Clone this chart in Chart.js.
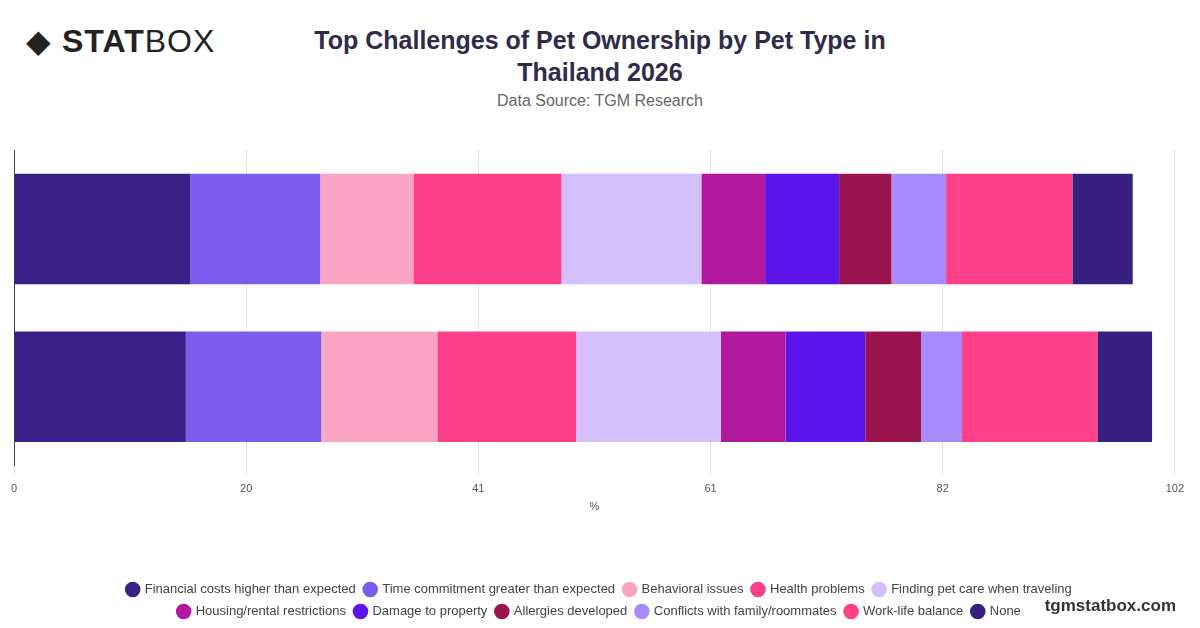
<!DOCTYPE html>
<html>
<head>
<meta charset="utf-8">
<script src="https://cdn.jsdelivr.net/npm/chart.js@4"></script>
<style>
  body { margin: 0; width: 1200px; height: 628px; background: #fff; font-family: "Liberation Sans", Arial, sans-serif; position: relative; overflow: hidden; }
  #logo { position: absolute; left: 26px; top: 22px; font-size: 32px; color: #222; letter-spacing: 1px; }
  #logo b { font-weight: 900; }
  #title { position: absolute; left: 300px; width: 600px; top: 24px; text-align: center; font-size: 25px; font-weight: 700; color: #2f2b48; line-height: 32px; }
  #source { position: absolute; left: 300px; width: 600px; top: 92px; text-align: center; font-size: 16px; color: #666; }
  #wm { position: absolute; right: 24px; bottom: 12px; font-size: 17px; font-weight: 700; color: #333; }
  #box { position: absolute; left: 0; top: 140px; width: 1193px; height: 488px; }
</style>
</head>
<body>
<div id="logo">&#9670; <b>STAT</b>BOX</div>
<div id="title">Top Challenges of Pet Ownership by Pet Type in<br>Thailand 2026</div>
<div id="source">Data Source: TGM Research</div>
<div id="box"><canvas id="myChart"></canvas></div>
<div id="wm">tgmstatbox.com</div>
<script>
const petTypes = ["Dog", "Cat"];
const challenges = ["Financial costs higher than expected", "Time commitment greater than expected", "Behavioral issues", "Health problems", "Finding pet care when traveling", "Housing/rental restrictions", "Damage to property", "Allergies developed", "Conflicts with family/roommates", "Work-life balance", "None"];
const dogValues = [15.5, 11.4, 8.2, 13.0, 12.3, 5.6, 6.5, 4.6, 4.8, 11.1, 5.3];
const catValues = [15.1, 11.9, 10.2, 12.2, 12.7, 5.7, 7.0, 4.9, 3.6, 11.9, 4.8];
const colors = ["#3a1f86", "#7b5ced", "#fba4c4", "#fd3f87", "#d4bffb", "#b1189e", "#5b15ea", "#9b1450", "#a78bfa", "#ff3f88", "#37207f"];
const tickValues = [0, 20.4, 40.8, 61.2, 81.6, 102];

const datasets = challenges.map((name, i) => ({
  label: name,
  data: [dogValues[i], catValues[i]],
  backgroundColor: colors[i],
  borderWidth: 0,
  barPercentage: 0.7,
  categoryPercentage: 1,
}));

// narrower legend rows so it wraps after 5 items
const legendWrap = {
  id: "legendWrap",
  afterInit(chart) {
    const orig = chart.legend.update;
    chart.legend.update = function (w, h, m) {
      orig.call(this, Math.min(w, 1000), h, m);
    };
  },
};

new Chart(document.getElementById("myChart"), {
  type: "bar",
  data: { labels: petTypes, datasets: datasets },
  plugins: [legendWrap],
  options: {
    indexAxis: "y",
    responsive: true,
    maintainAspectRatio: false,
    animation: false,
    layout: { padding: { left: 6, right: 0, top: 10, bottom: 0 } },
    scales: {
      x: {
        stacked: true,
        min: 0,
        max: 102,
        afterBuildTicks: (axis) => { axis.ticks = tickValues.map((v) => ({ value: v })); },
        ticks: { callback: (v) => Math.round(v), color: "#555", font: { size: 11 }, padding: 9 },
        grid: { color: "#e2e2e2", drawTicks: true, tickLength: 8 },
        border: { display: false },
        title: { display: true, text: "%", color: "#555", font: { size: 11 }, padding: { top: -4, bottom: 60 } },
      },
      y: {
        stacked: true,
        ticks: { display: false },
        grid: { display: false },
        border: { color: "#444" },
      },
    },
    plugins: {
      tooltip: { enabled: false },
      legend: {
        position: "bottom",
        labels: { usePointStyle: true, pointStyle: "circle", boxWidth: 11, boxHeight: 11, padding: 9, color: "#444", font: { size: 13, family: "Liberation Sans" } },
      },
    },
  },
});
</script>
</body>
</html>
